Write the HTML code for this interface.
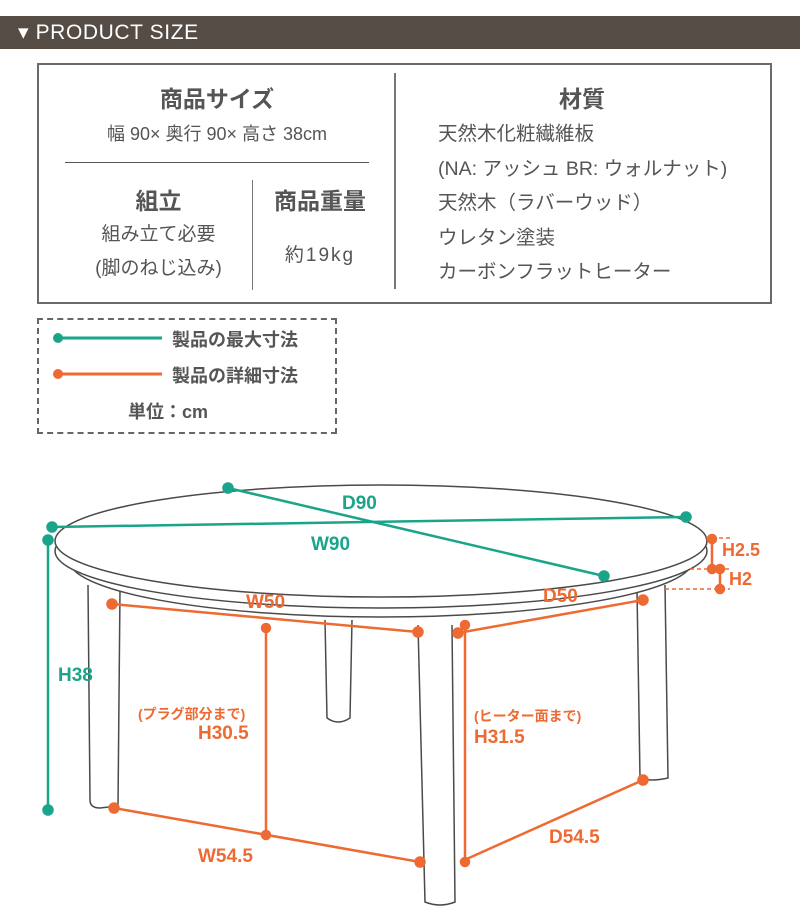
<!DOCTYPE html>
<html><head><meta charset="utf-8"><style>
body{margin:0;width:800px;height:920px;background:#fff;overflow:hidden;position:relative;font-family:"Liberation Sans","Noto Sans CJK JP",sans-serif;color:#555}
.a{position:absolute;white-space:nowrap}
</style></head><body>
<div class="a" style="left:0;top:16px;width:800px;height:33px;background:#564c46"></div>
<div class="a" style="left:18px;top:20px;color:#fff;font-size:21px;line-height:26px;letter-spacing:0.6px">▾ PRODUCT SIZE</div>
<div class="a" style="left:37px;top:63px;width:731px;height:237px;border:2px solid #6a6a6a"></div>
<div class="a" style="left:394px;top:73px;width:2px;height:216px;background:#777"></div>
<div class="a" style="left:65px;top:162px;width:304px;height:1px;background:#555"></div>
<div class="a" style="left:252px;top:180px;width:1px;height:110px;background:#777"></div>
<div class="a" style="left:65px;top:80px;width:304px;text-align:center;font-size:23px;font-weight:bold;color:#555">商品サイズ</div>
<div class="a" style="left:65px;top:120px;width:304px;text-align:center;font-size:18px">幅 90× 奥行 90× 高さ 38cm</div>
<div class="a" style="left:65px;top:182px;width:187px;text-align:center;font-size:23px;font-weight:bold">組立</div>
<div class="a" style="left:65px;top:218px;width:187px;text-align:center;font-size:19px;line-height:34px">組み立て必要<br>(脚のねじ込み)</div>
<div class="a" style="left:252px;top:182px;width:136px;text-align:center;font-size:23px;font-weight:bold">商品重量</div>
<div class="a" style="left:252px;top:240px;width:136px;text-align:center;font-size:19px;letter-spacing:2px">約19kg</div>
<div class="a" style="left:396px;top:80px;width:372px;text-align:center;font-size:23px;font-weight:bold">材質</div>
<div class="a" style="left:438px;top:117px;font-size:19.5px;line-height:34.5px">天然木化粧繊維板<br>(NA: アッシュ BR: ウォルナット)<br>天然木（ラバーウッド）<br>ウレタン塗装<br>カーボンフラットヒーター</div>
<div class="a" style="left:37px;top:318px;width:296px;height:112px;border:2px dashed #666"></div>
<svg class="a" style="left:0;top:0" width="800" height="920">
<line x1="58" y1="338" x2="162" y2="338" stroke="#1aa58a" stroke-width="3"/><circle cx="58" cy="338" r="5" fill="#1aa58a"/>
<line x1="58" y1="374" x2="162" y2="374" stroke="#ee6a33" stroke-width="3"/><circle cx="58" cy="374" r="5" fill="#ee6a33"/>
<g fill="#fff" stroke="#4a4a4a" stroke-width="1.5">
<path d="M88 585 L90 800 Q90 808 100 808 L118 806 L120 590"/>
<path d="M637 590 L640 778 Q650 782 668 778 L665 585"/>
<path d="M325 620 L327 718 Q338 726 350 718 L352 620"/>
<path d="M418 625 L425 902 Q440 908 455 902 L452 625"/>
<ellipse cx="381" cy="560" rx="312" ry="57"/>
<ellipse cx="381" cy="551" rx="326" ry="57"/>
<ellipse cx="381" cy="541" rx="326" ry="56"/>
</g>
<g stroke="#ee6a33" stroke-width="2.5" fill="#ee6a33">
<line x1="112" y1="604" x2="418" y2="632"/><circle cx="112" cy="604" r="4.5"/><circle cx="418" cy="632" r="4.5"/>
<line x1="458" y1="633" x2="643" y2="600"/><circle cx="458" cy="633" r="4.5"/><circle cx="643" cy="600" r="4.5"/>
<line x1="266" y1="628" x2="266" y2="835"/><circle cx="266" cy="628" r="4"/><circle cx="266" cy="835" r="4"/>
<line x1="465" y1="625" x2="465" y2="862"/><circle cx="465" cy="625" r="4"/><circle cx="465" cy="862" r="4"/>
<line x1="114" y1="808" x2="420" y2="862"/><circle cx="114" cy="808" r="4.5"/><circle cx="420" cy="862" r="4.5"/>
<line x1="460" y1="862" x2="643" y2="780"/><circle cx="643" cy="780" r="4.5"/>
<line x1="712" y1="539" x2="712" y2="569"/><circle cx="712" cy="539" r="4"/><circle cx="712" cy="569" r="4"/>
<line x1="720" y1="569" x2="720" y2="589"/><circle cx="720" cy="569" r="4"/><circle cx="720" cy="589" r="4"/>
<line x1="705" y1="538" x2="730" y2="538" stroke-width="1.5" stroke-dasharray="4 3"/>
<line x1="690" y1="569" x2="730" y2="569" stroke-width="1.5" stroke-dasharray="4 3"/>
<line x1="665" y1="589" x2="730" y2="589" stroke-width="1.5" stroke-dasharray="4 3"/>
</g>
<g stroke="#1aa58a" stroke-width="2.5" fill="#1aa58a">
<line x1="52" y1="527" x2="686" y2="517"/><circle cx="52" cy="527" r="4.5"/><circle cx="686" cy="517" r="4.5"/>
<line x1="228" y1="488" x2="604" y2="576"/><circle cx="228" cy="488" r="4.5"/><circle cx="604" cy="576" r="4.5"/>
<line x1="48" y1="540" x2="48" y2="810"/><circle cx="48" cy="540" r="4.5"/><circle cx="48" cy="810" r="4.5"/>
</g>
</svg>
<div class="a" style="left:172px;top:326px;font-size:18px;font-weight:bold;color:#555">製品の最大寸法</div>
<div class="a" style="left:172px;top:362px;font-size:18px;font-weight:bold;color:#555">製品の詳細寸法</div>
<div class="a" style="left:128px;top:398px;font-size:18px;font-weight:bold;color:#555">単位：cm</div>
<div class="a" style="left:342px;top:493px;font-size:19px;font-weight:bold;color:#1aa58a">D90</div>
<div class="a" style="left:311px;top:534px;font-size:19px;font-weight:bold;color:#1aa58a">W90</div>
<div class="a" style="left:58px;top:665px;font-size:19px;font-weight:bold;color:#1aa58a">H38</div>
<div class="a" style="left:246px;top:592px;font-size:19px;font-weight:bold;color:#ee6a33">W50</div>
<div class="a" style="left:543px;top:586px;font-size:19px;font-weight:bold;color:#ee6a33">D50</div>
<div class="a" style="left:722px;top:540px;font-size:18px;font-weight:bold;color:#ee6a33">H2.5</div>
<div class="a" style="left:729px;top:569px;font-size:18px;font-weight:bold;color:#ee6a33">H2</div>
<div class="a" style="left:138px;top:704px;font-size:14px;font-weight:bold;color:#ee6a33">(プラグ部分まで)</div>
<div class="a" style="left:198px;top:723px;font-size:19px;font-weight:bold;color:#ee6a33">H30.5</div>
<div class="a" style="left:474px;top:706px;font-size:14px;font-weight:bold;color:#ee6a33">(ヒーター面まで)</div>
<div class="a" style="left:474px;top:727px;font-size:19px;font-weight:bold;color:#ee6a33">H31.5</div>
<div class="a" style="left:198px;top:846px;font-size:19px;font-weight:bold;color:#ee6a33">W54.5</div>
<div class="a" style="left:549px;top:827px;font-size:19px;font-weight:bold;color:#ee6a33">D54.5</div>
</body></html>
